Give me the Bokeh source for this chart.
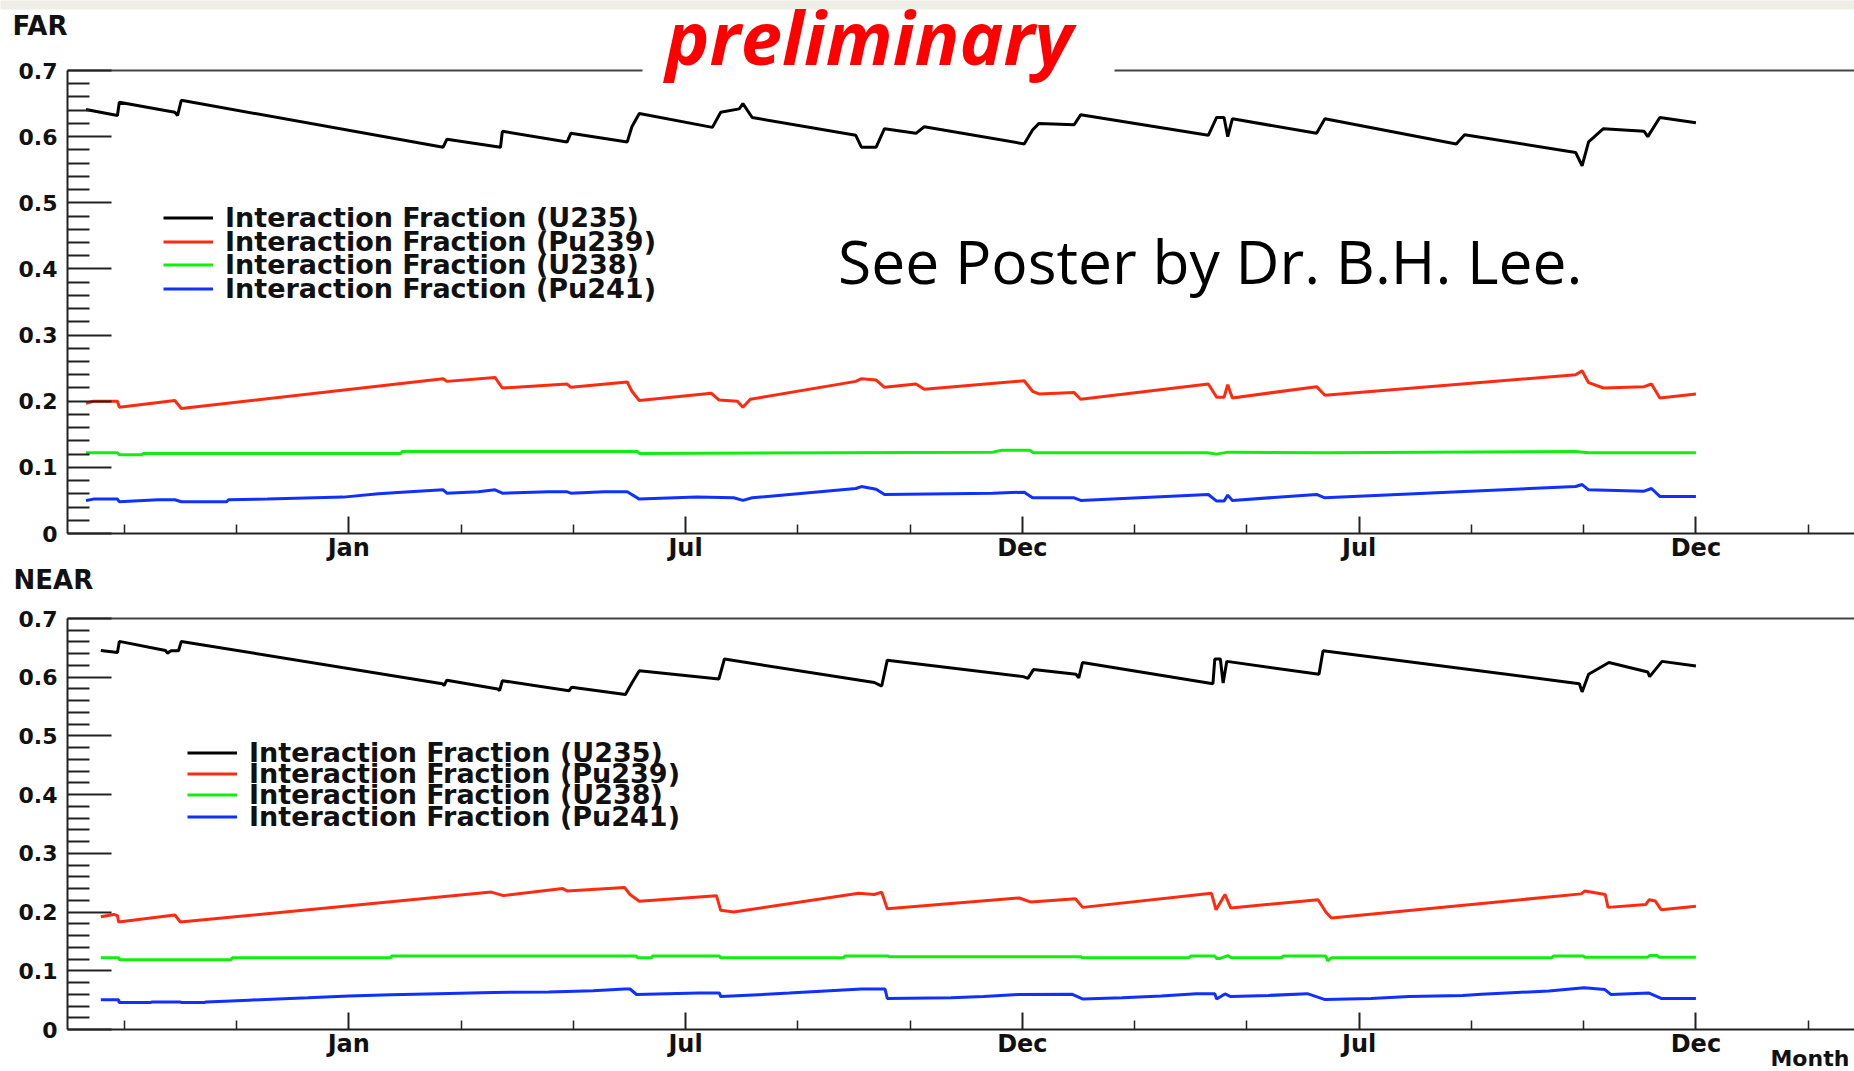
from bokeh.plotting import figure
from bokeh.layouts import column
from bokeh.models import (Range1d, FixedTicker, LinearAxis, Legend, LegendItem,
                          Label, BoxAnnotation)
from bokeh.embed import file_html
from bokeh.resources import INLINE

# ---- time axis (days from start of data taking) ----
month_ticks = [152, 334, 516, 698, 880]
month_labels = ["Jan", "Jul", "Dec", "Jul", "Dec"]
x_end = 965.7

# ---- fraction axis ----
frac_ticks = [0, 0.1, 0.2, 0.3, 0.4, 0.5, 0.6, 0.7]

# ---- FAR detector interaction fractions ----
far_u235_day = [10, 27, 28, 58, 59.5, 61.5, 203, 205, 234, 235, 270, 272, 302.5, 305, 309,
                348.5, 353, 363, 365, 370, 426, 429, 437, 441.5, 458.5, 463, 517, 521.5, 525,
                544, 547.5, 616.5, 621, 625, 627, 629.5, 675, 679.5, 750.5, 755, 815, 818.5,
                822, 830, 852, 854, 860.5, 880]
far_u235 = [0.641, 0.632, 0.652, 0.637, 0.632, 0.655, 0.584, 0.596, 0.584, 0.608, 0.592, 0.605,
            0.592, 0.615, 0.635, 0.614, 0.637, 0.642, 0.650, 0.629, 0.602, 0.584, 0.584, 0.612,
            0.605, 0.615, 0.589, 0.610, 0.620, 0.618, 0.633, 0.602, 0.629, 0.629, 0.600, 0.627,
            0.605, 0.627, 0.589, 0.603, 0.576, 0.556, 0.592, 0.612, 0.608, 0.600, 0.629, 0.621]

far_pu239_day = [10, 14, 27, 28, 58, 61.5, 203, 205, 231, 235, 270, 272, 302.5, 305, 309,
                 348, 352, 362, 365, 369, 426, 429, 437, 441.5, 458.5, 463, 517, 521.5, 525,
                 544, 547.5, 616.5, 621, 625, 627, 629.5, 675, 679.5, 815, 818.5, 822, 830,
                 852, 856, 860.5, 880]
far_pu239 = [0.197, 0.200, 0.200, 0.191, 0.201, 0.189, 0.234, 0.230, 0.236, 0.220, 0.226, 0.221,
             0.229, 0.215, 0.201, 0.212, 0.202, 0.200, 0.191, 0.203, 0.230, 0.234, 0.232, 0.221,
             0.226, 0.218, 0.231, 0.215, 0.211, 0.213, 0.203, 0.226, 0.206, 0.206, 0.225, 0.205,
             0.222, 0.209, 0.240, 0.246, 0.228, 0.220, 0.222, 0.226, 0.205, 0.211]

far_u238_day = [10, 27, 28, 40, 41, 180, 181, 308, 309, 500, 505, 520, 522, 616, 621, 627,
                680, 815, 822, 880]
far_u238 = [0.122, 0.122, 0.119, 0.119, 0.121, 0.121, 0.124, 0.124, 0.121, 0.123, 0.126, 0.126,
            0.122, 0.122, 0.120, 0.123, 0.122, 0.124, 0.122, 0.122]

far_pu241_day = [10, 14, 27, 28, 49, 58, 61.5, 86, 87, 108, 149, 168, 185, 203, 205, 222, 231,
                 235, 260, 270, 272, 290, 302.5, 309, 340, 360, 365, 370, 426, 429, 437, 441.5,
                 500, 517, 521.5, 544, 547.5, 616.5, 621, 625, 627, 629.5, 675, 679.5, 815,
                 818.5, 822, 852, 856, 860.5, 880]
far_pu241 = [0.050, 0.052, 0.052, 0.048, 0.051, 0.051, 0.048, 0.048, 0.051, 0.052, 0.055, 0.060,
             0.063, 0.066, 0.061, 0.063, 0.066, 0.061, 0.063, 0.063, 0.061, 0.063, 0.063, 0.052,
             0.055, 0.054, 0.050, 0.054, 0.068, 0.071, 0.067, 0.059, 0.061, 0.0625, 0.054, 0.054,
             0.050, 0.059, 0.049, 0.049, 0.058, 0.050, 0.059, 0.054, 0.071, 0.074, 0.066, 0.064,
             0.068, 0.056, 0.056]

# ---- NEAR detector interaction fractions ----
near_u235_day = [18, 27, 28, 53, 54, 56, 60, 61.5, 202.5, 203.5, 205, 232.5, 233.5, 235, 271,
                 272.5, 301.5, 305, 309, 352, 355, 436, 440, 443, 516.5, 519, 522, 545, 546.5,
                 548.5, 619, 620, 623, 624.5, 626.5, 676.3, 678.5, 817, 818.5, 822, 833, 854,
                 855, 861.7, 880]
near_u235 = [0.6455, 0.642, 0.661, 0.6455, 0.641, 0.645, 0.645, 0.661, 0.589, 0.586, 0.595,
             0.580, 0.577, 0.594, 0.577, 0.583, 0.5706, 0.590, 0.611, 0.597, 0.631, 0.591, 0.585,
             0.629, 0.601, 0.598, 0.613, 0.605, 0.599, 0.625, 0.589, 0.631, 0.631, 0.590, 0.627,
             0.605, 0.645, 0.589, 0.575, 0.605, 0.625, 0.609, 0.601, 0.627, 0.619]

near_pu239_day = [18, 25, 27, 27.6, 58, 61, 229, 235.6, 267.6, 270, 301, 304, 309, 350.7, 353,
                  360, 427.5, 436, 440, 443, 514.3, 520.7, 544.7, 548.6, 618.2, 620.7, 625.5,
                  628.6, 675.8, 680, 683, 818, 820, 831, 832.5, 853, 854.7, 858, 861.2, 880]
near_pu239 = [0.192, 0.196, 0.194, 0.183, 0.195, 0.183, 0.234, 0.228, 0.240, 0.236, 0.242, 0.230,
              0.2185, 0.228, 0.203, 0.200, 0.232, 0.230, 0.234, 0.2055, 0.224, 0.217, 0.2226,
              0.208, 0.232, 0.204, 0.230, 0.207, 0.221, 0.200, 0.190, 0.231, 0.236, 0.230, 0.208,
              0.213, 0.221, 0.219, 0.204, 0.210]

near_u238_day = [18, 27.7, 28, 88.5, 89, 174.8, 175, 307.5, 308, 315.7, 316, 352.3, 353, 419.5,
                 420, 443.6, 444, 547.8, 548, 606, 607, 620, 621, 623, 627, 629, 656, 657, 680,
                 681, 683, 802, 803, 819, 820, 854, 855, 859, 860, 880]
near_u238 = [0.122, 0.122, 0.119, 0.119, 0.122, 0.122, 0.125, 0.125, 0.122, 0.122, 0.125, 0.125,
             0.122, 0.122, 0.125, 0.125, 0.124, 0.124, 0.122, 0.122, 0.125, 0.125, 0.121, 0.121,
             0.126, 0.122, 0.122, 0.125, 0.125, 0.117, 0.122, 0.122, 0.125, 0.125, 0.123, 0.123,
             0.126, 0.126, 0.123, 0.123]

near_pu241_day = [18, 27.7, 27.8, 45, 45.5, 61, 61.5, 74, 75, 98, 130, 152, 175, 200, 230, 260,
                  284, 301, 304, 307.5, 341, 352.3, 353, 390, 429, 441.8, 443, 477.5, 495, 514,
                  543, 548.5, 570, 591, 610, 620, 621, 625.5, 628.6, 649, 670, 679.6, 704.5,
                  725, 754, 764, 783, 800.5, 819.6, 830.8, 834, 854.7, 861.2, 880]
near_pu241 = [0.0505, 0.0505, 0.046, 0.046, 0.047, 0.047, 0.046, 0.046, 0.047, 0.050, 0.054,
              0.057, 0.059, 0.061, 0.063, 0.064, 0.066, 0.069, 0.069, 0.0596, 0.062, 0.062, 0.056,
              0.062, 0.069, 0.069, 0.053, 0.054, 0.056, 0.0595, 0.060, 0.052, 0.054, 0.057, 0.061,
              0.061, 0.052, 0.0605, 0.056, 0.058, 0.061, 0.051, 0.053, 0.056, 0.058, 0.060, 0.063,
              0.0655, 0.071, 0.068, 0.0597, 0.062, 0.053, 0.053]

isotopes = ["U235", "Pu239", "U238", "Pu241"]
colors = ["#000000", "#ff2a10", "#10ee10", "#1030ff"]

ROOT_FONT = "DejaVu Sans"
W = 1854
AXIS_X = 67           # pixel column of the fraction axis
PX_PER_DAY = 1.8505


def month_minor_ticks():
    step = (month_ticks[1] - month_ticks[0]) / 3.0
    out = []
    t = month_ticks[0] - 2 * step
    while t < x_end:
        if all(abs(t - m) > 1e-6 for m in month_ticks):
            out.append(round(t, 2))
        t += step
    return out


def panel(height, frame_top, frame_bottom, series, legend_x, legend_rows_y):
    """One ROOT-like pad. The plotting frame fills the whole canvas; the axes are
    pinned at day 0 / fraction 0 so titles and stamps around them stay inside it."""
    px_per_unit = (frame_bottom - frame_top) / 0.7
    y0 = -(height - frame_bottom) / px_per_unit
    y1 = 0.7 + frame_top / px_per_unit
    x0 = -AXIS_X / PX_PER_DAY

    p = figure(width=W, height=height, x_range=Range1d(x0, x_end), y_range=Range1d(y0, y1),
               output_backend="svg", toolbar_location=None, min_border=0,
               min_border_left=0, min_border_right=0, min_border_top=0, min_border_bottom=0,
               outline_line_color=None, background_fill_color="white",
               border_fill_color="white")
    p.title.visible = False
    p.grid.visible = False

    xa = p.xaxis[0]
    xa.fixed_location = 0
    xa.bounds = (0, x_end)
    xa.ticker = FixedTicker(ticks=month_ticks, minor_ticks=month_minor_ticks())
    xa.major_label_overrides = dict(zip(month_ticks, month_labels))
    xa.major_tick_in, xa.major_tick_out = 17, 0
    xa.minor_tick_in, xa.minor_tick_out = 9, 0
    xa.axis_line_color = "#222222"
    xa.axis_line_width = 2
    xa.major_tick_line_color = "#222222"
    xa.major_tick_line_width = 2
    xa.minor_tick_line_color = "#222222"
    xa.minor_tick_line_width = 1.5
    xa.major_label_text_font = ROOT_FONT
    xa.major_label_text_font_style = "bold"
    xa.major_label_text_font_size = "24px"
    xa.major_label_text_color = "#111111"
    xa.major_label_standoff = 0

    ya = p.yaxis[0]
    ya.fixed_location = 0
    ya.bounds = (0, 0.7)
    minor_y = [round(0.02 * i, 2) for i in range(36) if i % 5 != 0]
    ya.ticker = FixedTicker(ticks=frac_ticks, minor_ticks=minor_y)
    ya.major_tick_in, ya.major_tick_out = 44, 0
    ya.minor_tick_in, ya.minor_tick_out = 22, 0
    ya.axis_line_color = "#222222"
    ya.axis_line_width = 2
    ya.major_tick_line_color = "#222222"
    ya.major_tick_line_width = 2
    ya.minor_tick_line_color = "#222222"
    ya.minor_tick_line_width = 2
    ya.major_label_text_font = ROOT_FONT
    ya.major_label_text_font_style = "bold"
    ya.major_label_text_font_size = "22px"
    ya.major_label_text_color = "#111111"
    ya.major_label_standoff = 10

    # upper edge of the pad frame
    top = LinearAxis(fixed_location=0.7, bounds=(0, x_end), ticker=FixedTicker(ticks=[]),
                     axis_line_color="#444444", axis_line_width=2,
                     major_tick_line_color=None, minor_tick_line_color=None,
                     major_label_text_font_size="0px")
    p.add_layout(top, "above")

    # one legend entry per row so the rows can sit as tightly as in ROOT
    row_h = 31
    for name, color, (days, vals), row_y in zip(isotopes, colors, series, legend_rows_y):
        r = p.line(days, vals, line_color=color, line_width=3)
        item = LegendItem(label=f"Interaction Fraction ({name})", renderers=[r])
        vy = height - row_y - row_h / 2.0
        p.add_layout(Legend(items=[item], location=(legend_x, vy),
                            glyph_width=50, glyph_height=row_h, label_height=row_h,
                            label_standoff=12, spacing=0, padding=0, margin=0,
                            border_line_color=None, background_fill_alpha=0,
                            label_text_font=ROOT_FONT, label_text_font_style="bold",
                            label_text_font_size="27px", label_text_color="#111111"))
    return p, px_per_unit


FAR_H = 565
NEAR_H = 1071 - FAR_H

far, far_ppu = panel(FAR_H, 70, 533,
                     [(far_u235_day, far_u235), (far_pu239_day, far_pu239),
                      (far_u238_day, far_u238), (far_pu241_day, far_pu241)],
                     163, [217.6, 241.2, 264.9, 288.5])

near, near_ppu = panel(NEAR_H, 618 - FAR_H, 1029 - FAR_H,
                       [(near_u235_day, near_u235), (near_pu239_day, near_pu239),
                        (near_u238_day, near_u238), (near_pu241_day, near_pu241)],
                       187, [752 - FAR_H, 773 - FAR_H, 794.6 - FAR_H, 816 - FAR_H])


def day_at(px):
    return (px - AXIS_X) / PX_PER_DAY


def far_val(py):
    return (533 - py) / far_ppu


def near_val(py):
    # py measured from the top of the page
    return (1029 - py) / near_ppu


# slide band along the very top edge
far.add_layout(BoxAnnotation(left=day_at(-10), right=day_at(1870), bottom=far_val(9),
                             top=far_val(-10), fill_color="#eeeee6", fill_alpha=1.0,
                             line_color=None))
# gap in the upper frame edge behind the stamp
far.add_layout(BoxAnnotation(left=day_at(642), right=day_at(1114), bottom=far_val(76),
                             top=far_val(64), fill_color="white", fill_alpha=1.0,
                             line_color=None))
far.add_layout(Label(x=day_at(665), y=far_val(36), text="preliminary",
                     text_font="Open Sans", text_font_style="bold italic",
                     text_font_size="74px", text_color="#ff0000",
                     text_baseline="alphabetic"))
far.add_layout(Label(x=day_at(837.6), y=far_val(260.3), text="See Poster by Dr. B.H. Lee.",
                     text_font="Open Sans", text_font_size="60.5px",
                     text_color="#000000", text_baseline="alphabetic"))
far.add_layout(Label(x=day_at(12), y=far_val(25.3), text="FAR", text_font=ROOT_FONT,
                     text_font_style="bold", text_font_size="26px",
                     text_color="#111111", text_baseline="alphabetic"))
near.add_layout(Label(x=day_at(13), y=near_val(579.3), text="NEAR", text_font=ROOT_FONT,
                      text_font_style="bold", text_font_size="26px",
                      text_color="#111111", text_baseline="alphabetic"))
near.add_layout(Label(x=day_at(1770), y=near_val(1058), text="Month", text_font=ROOT_FONT,
                      text_font_style="bold", text_font_size="22px",
                      text_color="#111111", text_baseline="alphabetic"))

layout = column(far, near, spacing=0)

with open("out.html", "w") as f:
    f.write(file_html(layout, INLINE))
